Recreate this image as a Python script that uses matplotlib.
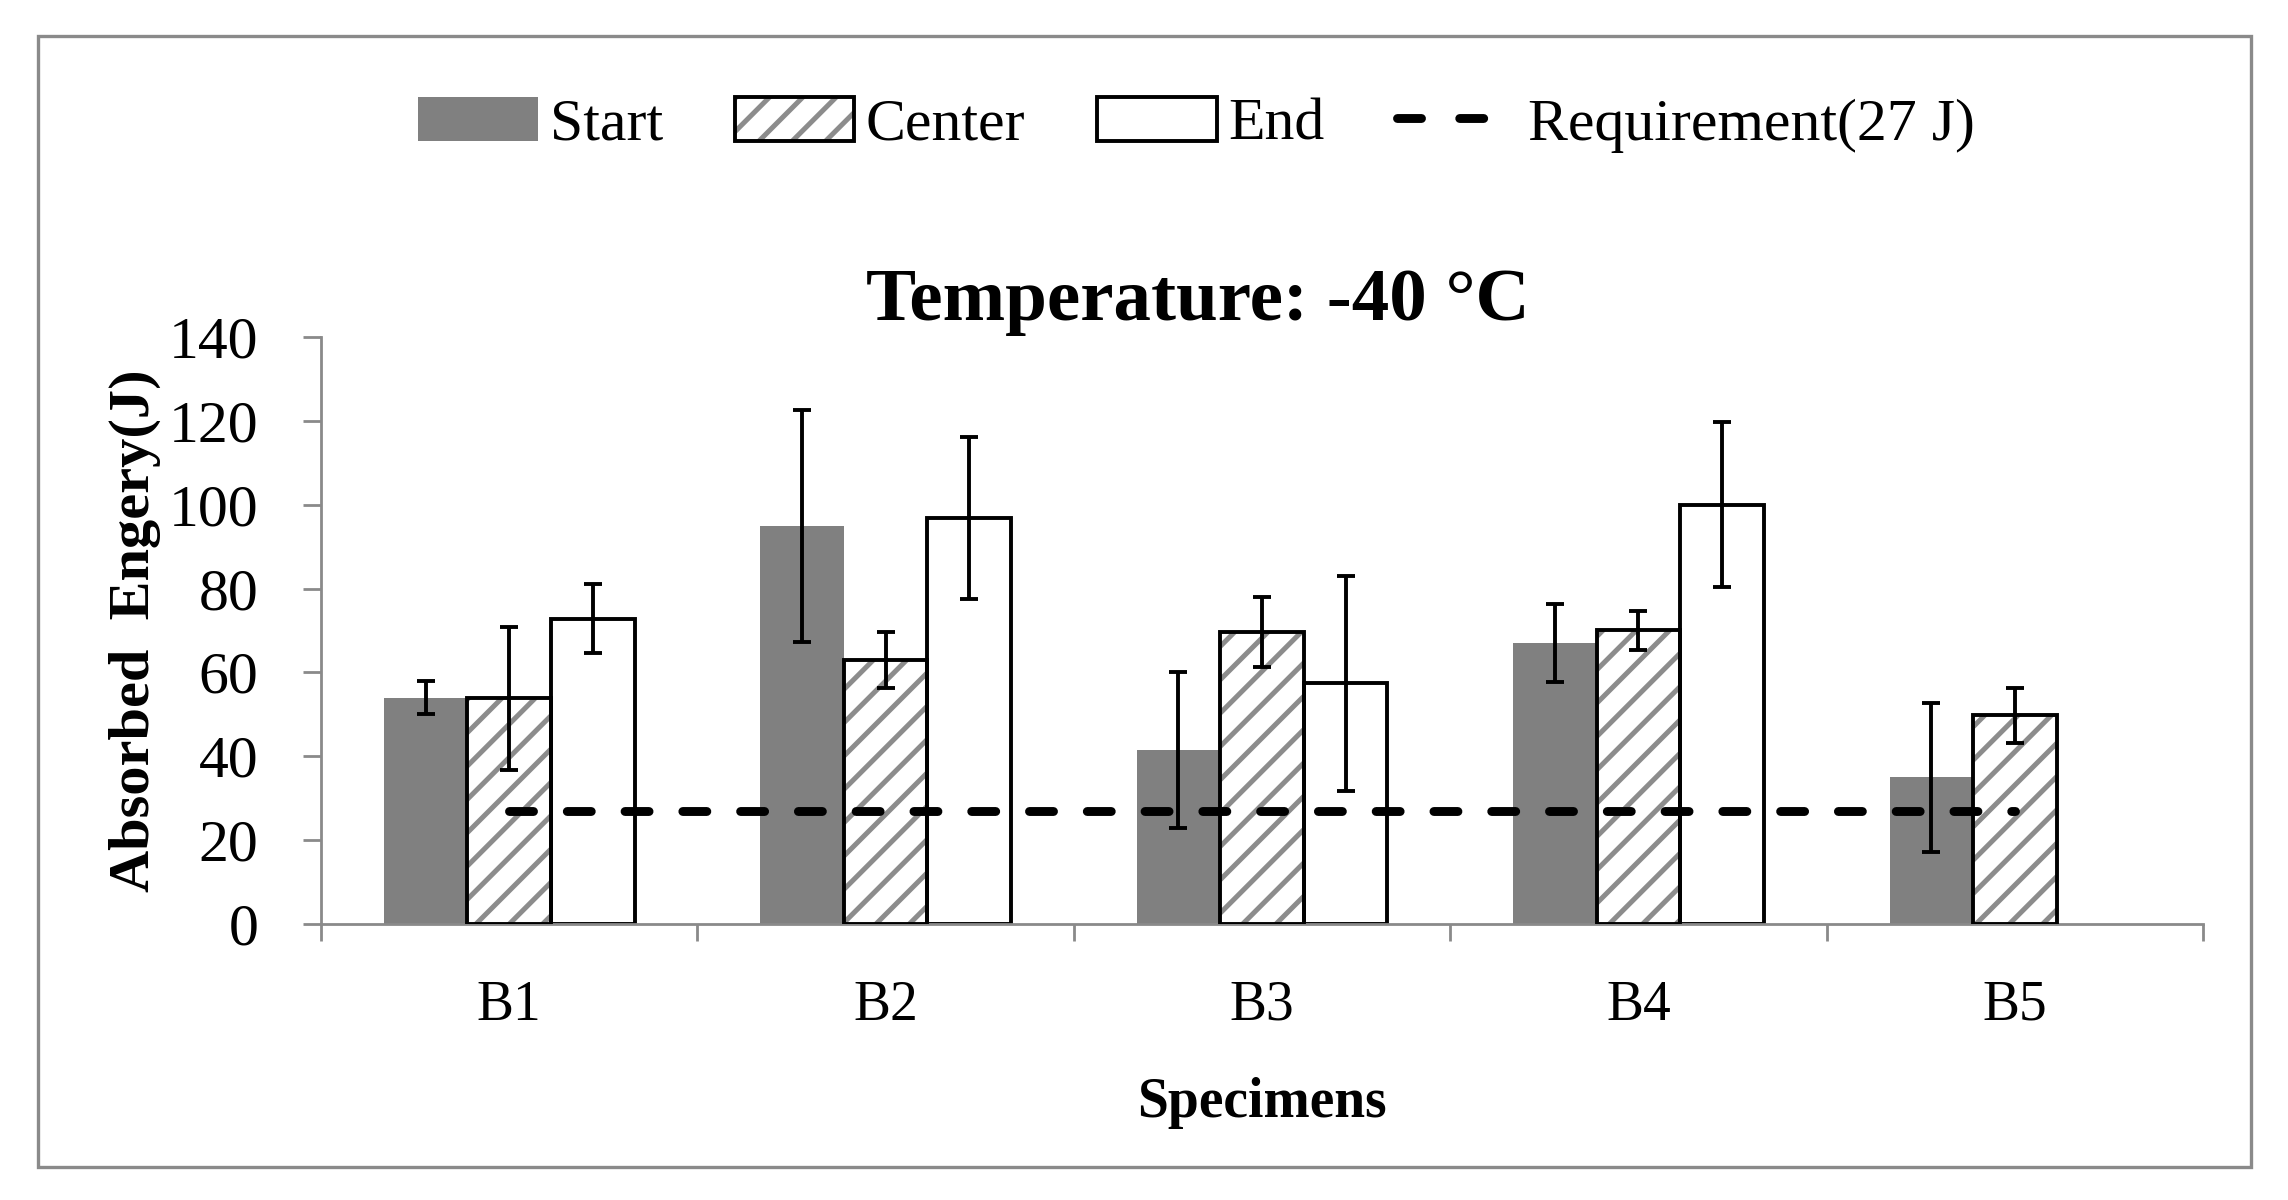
import numpy as np
import matplotlib
matplotlib.use("Agg")
import matplotlib.pyplot as plt
from matplotlib.patches import Rectangle

# values
specimens = ["B1", "B2", "B3", "B4", "B5"]
start_vals = [54.0, 95.0, 41.6, 67.0, 35.0]
start_err = [4.0, 27.7, 18.6, 9.4, 17.8]
center_vals = [53.8, 63.0, 69.6, 70.0, 49.8]
center_err = [17.0, 6.7, 8.3, 4.6, 6.6]
end_vals = [72.8, 96.8, 57.4, 100.0, np.nan]
end_err = [8.2, 19.3, 25.6, 19.7, np.nan]
requirement = [27, 27, 27, 27, 27]

plt.rcParams['font.family'] = ['Liberation Serif', 'DejaVu Serif']
plt.rcParams['hatch.linewidth'] = 1.8

fig = plt.figure(figsize=(11.44, 6.0), dpi=200)
ax = fig.add_axes([0.1403, 0.23, 0.8226, 0.4892])

x = np.arange(len(specimens))
w = 0.222
hatch_gray = '#8c8c8c'
ebar = dict(fmt='none', ecolor='black', elinewidth=1.4, capsize=3.3, capthick=1.4, zorder=5)

# Start: solid gray
ax.bar(x - w, start_vals, w, color='#808080', linewidth=0, zorder=2)
# Center: gray hatch with black outline
ax.bar(x, center_vals, w, facecolor='white', edgecolor=hatch_gray, hatch='//', linewidth=0, zorder=2)
ax.bar(x, center_vals, w, facecolor='none', edgecolor='black', linewidth=1.4, zorder=3)
# End: white with black outline
ax.bar(x + w, end_vals, w, facecolor='white', edgecolor='black', linewidth=1.4, zorder=2)

ax.errorbar(x - w, start_vals, yerr=start_err, **ebar)
ax.errorbar(x, center_vals, yerr=center_err, **ebar)
ax.errorbar(x + w, end_vals, yerr=end_err, **ebar)

req_line, = ax.plot(x, requirement, color='black', linewidth=3.2, zorder=4,
                    dash_capstyle='round')
req_line.set_dashes((2.7, 3.8))

ax.set_xlim(-0.5, 4.5)
ax.set_ylim(0, 140)
ax.set_yticks(np.arange(0, 141, 20))
ax.set_xticks(x)
ax.set_xticklabels(specimens)
ax.set_xticks(np.arange(-0.5, 4.6, 1), minor=True)

for s in ['top', 'right']:
    ax.spines[s].set_visible(False)
for s in ['left', 'bottom']:
    ax.spines[s].set_color('#8a8a8a')
    ax.spines[s].set_linewidth(1.0)

ax.tick_params(axis='y', direction='out', length=6.5, width=1.0, color='#8a8a8a',
               pad=16, labelsize=21.5)
ax.tick_params(axis='x', which='major', length=0, pad=20, labelsize=20)
ax.tick_params(axis='x', which='minor', direction='out', length=6, width=1.0, color='#8a8a8a')

ax.set_ylabel("Absorbed  Engery(J)", fontsize=21, fontweight='bold')
ax.yaxis.set_label_coords(-0.085, 0.5)
ax.set_xlabel("Specimens", fontsize=20, fontweight='bold')
ax.xaxis.set_label_coords(0.5, -0.26)

fig.text(0.5236, 0.748, "Temperature: -40 \u00b0C", fontsize=27, fontweight='bold',
         ha='center', va='center')

# legend
h_start = Rectangle((0, 0), 1, 1, facecolor='#808080', linewidth=0)
h_hatch = Rectangle((0, 0), 1, 1, facecolor='white', edgecolor=hatch_gray, hatch='//', linewidth=0)
h_outline = Rectangle((0, 0), 1, 1, facecolor='none', edgecolor='black', linewidth=1.4)
h_end = Rectangle((0, 0), 1, 1, facecolor='white', edgecolor='black', linewidth=1.4)
h_req, = ax.plot([], [], color='black', linewidth=3.2, dash_capstyle='round')
h_req.set_dashes((2.7, 4.3))
fig.legend([h_start, (h_hatch, h_outline), h_end, h_req],
           ["Start", "Center", "End", "Requirement(27 J)"],
           loc='center', bbox_to_anchor=(0.523, 0.896), ncol=4, frameon=False,
           fontsize=21.5, handlelength=2.0, handleheight=0.75, handletextpad=0.2,
           columnspacing=1.2)

# outer border
fig.patches.append(Rectangle((0.0165, 0.0275), 0.9675, 0.9425, transform=fig.transFigure,
                             fill=False, edgecolor='#8a8a8a', linewidth=1.2))

fig.savefig("out.png", dpi=200, facecolor='white')
